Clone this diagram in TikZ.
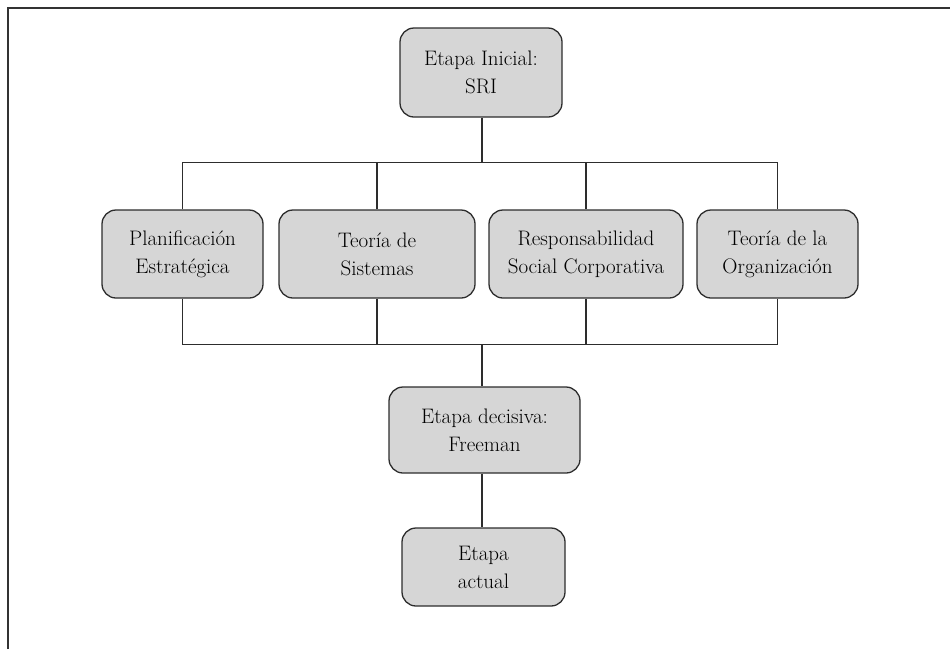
\documentclass[tikz,border=0pt]{standalone}
\usepackage{fontspec}
\definecolor{boxfill}{RGB}{214,214,214}
\definecolor{linecol}{RGB}{45,45,45}
\begin{document}
\begin{tikzpicture}[x=1pt,y=-1pt,
  stagebox/.style={draw=linecol, line width=1.3pt, fill=boxfill, rounded corners=14pt,
    align=center, inner sep=0pt, font=\fontsize{21}{28}\selectfont, text=black},
  conn/.style={draw=linecol, line width=1.3pt},
  frame/.style={draw=black!80, line width=2pt}]
\useasboundingbox (0,0) rectangle (950,649);
% frame
\coordinate (fa) at (8,649);
\coordinate (fb) at (8,8);
\coordinate (fc) at (950,8);
\draw[frame] (fa) -- (fb) -- (fc);
% nodes
\node[stagebox, minimum width=162pt, minimum height=89pt] (top) at (481,72.5) {Etapa Inicial:\\SRI};
\node[stagebox, minimum width=161pt, minimum height=88pt] (b1) at (182.5,254) {Planificación\\Estratégica};
\node[stagebox, minimum width=196pt, minimum height=88pt] (b2) at (377,254) {Teoría de\\Sistemas};
\node[stagebox, minimum width=194pt, minimum height=88pt] (b3) at (586,254) {Responsabilidad\\Social Corporativa};
\node[stagebox, minimum width=161pt, minimum height=88pt] (b4) at (777.5,254) {Teoría de la\\Organización};
\node[stagebox, minimum width=191pt, minimum height=86pt] (b5) at (484.5,430) {Etapa decisiva:\\Freeman};
\node[stagebox, minimum width=163pt, minimum height=78pt] (b6) at (483.5,567) {Etapa\\actual};
% junctions
\coordinate (jt) at (482,162.7);
\coordinate (jb) at (482,344.3);
% connectors
\draw[conn] (top.south -| jt) -- (jt);
\draw[conn] (b1.north) |- (b4.north |- jt) -- (b4.north);
\draw[conn] (b2.north) -- (b2.north |- jt);
\draw[conn] (b3.north) -- (b3.north |- jt);
\draw[conn] (b1.south) |- (b4.south |- jb) -- (b4.south);
\draw[conn] (b2.south) -- (b2.south |- jb);
\draw[conn] (b3.south) -- (b3.south |- jb);
\draw[conn] (jb) -- (b5.north -| jb);
\draw[conn] (b5.south -| jb) -- (b6.north -| jb);
\end{tikzpicture}
\end{document}
